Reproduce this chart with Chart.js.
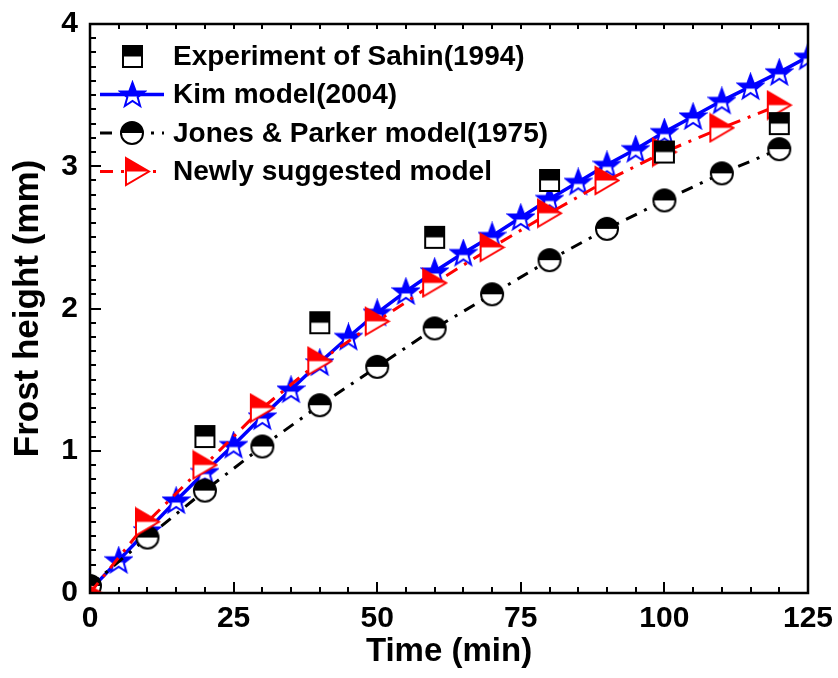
<!DOCTYPE html>
<html><head><meta charset="utf-8">
<script src="https://cdn.jsdelivr.net/npm/chart.js@4.4.1/dist/chart.umd.min.js"></script>
<style>html,body{margin:0;padding:0;background:#fff}#wrap{width:838px;height:678px;position:relative}canvas{display:block}</style>
</head><body><div id="wrap"><canvas id="c" width="838" height="678" style="width:838px;height:678px"></canvas></div>
<script>
// ---- data ----
const expTime   = [20, 40, 60, 80, 100, 120];
const expHeight = [1.1, 1.9, 2.5, 2.9, 3.1, 3.3];

const kimTime   = [0, 5, 10, 15, 20, 25, 30, 35, 40, 45, 50, 55, 60, 65, 70, 75, 80, 85, 90, 95, 100, 105, 110, 115, 120, 125];
const kimHeight = [0.02, 0.23, 0.44, 0.65, 0.85, 1.04, 1.24, 1.43, 1.62, 1.80, 1.97, 2.12, 2.26, 2.39, 2.51, 2.64, 2.77, 2.89, 3.01, 3.12, 3.24, 3.35, 3.46, 3.56, 3.66, 3.77];

const jonesTime   = [0, 10, 20, 30, 40, 50, 60, 70, 80, 90, 100, 110, 120];
const jonesHeight = [0.05, 0.39, 0.72, 1.03, 1.32, 1.59, 1.86, 2.10, 2.34, 2.56, 2.76, 2.95, 3.12];

const newTime   = [0, 10, 20, 30, 40, 50, 60, 70, 80, 90, 100, 110, 120];
const newHeight = [0.0, 0.50, 0.90, 1.30, 1.63, 1.91, 2.18, 2.43, 2.67, 2.90, 3.10, 3.27, 3.43];

const seriesLabels = ['Experiment of Sahin(1994)', 'Kim model(2004)', 'Jones & Parker model(1975)', 'Newly suggested model'];
const xTitle = 'Time (min)';
const yTitle = 'Frost height (mm)';

const FONT = '"Liberation Sans", Arial, Helvetica, sans-serif';

// ---- half-filled marker images ----
function makeMarker(kind, color) {
  const c = document.createElement('canvas');
  let w, h;
  if (kind === 'square') { w = 23; h = 25; }
  else if (kind === 'circle') { w = 26; h = 26; }
  else if (kind === 'tri') { w = 27; h = 31; }
  else { w = 29; h = 29; }
  c.width = w; c.height = h;
  const g = c.getContext('2d');
  const lw = 2;
  let splitY = h / 2;
  function path() {
    g.beginPath();
    if (kind === 'square') {
      g.rect(2, 2, w - 4, h - 4);
    } else if (kind === 'circle') {
      g.arc(w / 2, h / 2, w / 2 - 2, 0, Math.PI * 2);
    } else if (kind === 'tri') {
      g.moveTo(2, 2); g.lineTo(w - 2, h / 2); g.lineTo(2, h - 2); g.closePath();
    } else {
      const cx = w / 2, cy = h / 2 + 1, R = 13, r = 5.4;
      for (let i = 0; i < 10; i++) {
        const a = -Math.PI / 2 + i * Math.PI / 5;
        const rr = i % 2 === 0 ? R : r;
        const px = cx + rr * Math.cos(a), py = cy + rr * Math.sin(a);
        if (i === 0) g.moveTo(px, py); else g.lineTo(px, py);
      }
      g.closePath();
    }
  }
  if (kind === 'star') splitY = h / 2 + 2;
  path(); g.fillStyle = '#fff'; g.fill();
  g.save(); g.beginPath(); g.rect(0, 0, w, splitY); g.clip();
  path(); g.fillStyle = color; g.fill(); g.restore();
  path(); g.lineWidth = lw; g.strokeStyle = color; g.lineJoin = 'miter'; g.stroke();
  return c;
}
const sqImg = makeMarker('square', '#000');
const starImg = makeMarker('star', '#0000ff');
const circImg = makeMarker('circle', '#000');
const triImg = makeMarker('tri', '#ff0000');

const toXY = (xs, ys) => xs.map((x, i) => ({ x: x, y: ys[i] }));

// ---- frame + inward ticks ----
const framePlugin = {
  id: 'frame',
  afterDatasetsDraw(chart) {
    const { ctx, chartArea: a, scales: { x, y } } = chart;
    ctx.save();
    ctx.strokeStyle = '#000';
    ctx.lineWidth = 2.5;
    ctx.strokeRect(a.left, a.top, a.right - a.left, a.bottom - a.top);
    ctx.lineWidth = 2;
    ctx.beginPath();
    for (let v = x.min; v <= x.max + 1e-6; v += 5) {
      const px = Math.round(x.getPixelForValue(v));
      const major = Math.abs(v % 25) < 1e-6;
      ctx.moveTo(px, a.bottom); ctx.lineTo(px, a.bottom - (major ? 11 : 6));
      ctx.moveTo(px, a.top); ctx.lineTo(px, a.top + 5);
    }
    for (let k = 0; k <= 40; k++) {
      const v = k / 10;
      const py = Math.round(y.getPixelForValue(v));
      const major = k % 10 === 0;
      ctx.moveTo(a.left, py); ctx.lineTo(a.left + (major ? 11 : 6), py);
    }
    ctx.stroke();
    ctx.restore();
  }
};

// ---- legend inside the plot ----
const legendPlugin = {
  id: 'insideLegend',
  afterDatasetsDraw(chart) {
    const { ctx, chartArea: a } = chart;
    ctx.save();
    chart.data.datasets.forEach((ds, i) => {
      const yy = a.top + 32 + i * 38.5;
      if (ds.showLine !== false) {
        ctx.strokeStyle = ds.borderColor;
        ctx.lineWidth = ds.borderWidth;
        ctx.setLineDash(ds.borderDash || []);
        ctx.lineDashOffset = 0;
        ctx.beginPath(); ctx.moveTo(a.left + 10, yy); ctx.lineTo(a.left + 74, yy); ctx.stroke();
        ctx.setLineDash([]);
      }
      const img = ds.legendImg;
      const mx = a.left + (ds.legendImg === triImg ? 47 : 42);
      ctx.drawImage(img, Math.round(mx - img.width / 2), Math.round(yy - img.height / 2));
      ctx.fillStyle = '#000';
      ctx.font = 'bold 28px ' + FONT;
      ctx.textBaseline = 'middle';
      ctx.textAlign = 'left';
      ctx.fillText(ds.label, a.left + 83, yy + 1);
    });
    ctx.restore();
  }
};

new Chart(document.getElementById('c'), {
  type: 'line',
  data: {
    datasets: [
      { label: seriesLabels[0], data: toXY(expTime, expHeight), showLine: false,
        pointStyle: sqImg, pointRadius: 10, borderColor: '#000', backgroundColor: '#000',
        legendImg: sqImg, clip: 0, order: 0 },
      { label: seriesLabels[1], data: toXY(kimTime, kimHeight), showLine: true,
        borderColor: '#0000ff', borderWidth: 3.5, tension: 0,
        pointStyle: starImg, pointRadius: c => c.dataIndex === 0 ? 0 : 10,
        legendImg: starImg, clip: 0, order: 3 },
      { label: seriesLabels[2], data: toXY(jonesTime, jonesHeight), showLine: true,
        borderColor: '#000', borderWidth: 3, borderDash: [12, 8, 3, 8], tension: 0,
        pointStyle: circImg, pointRadius: 10, legendImg: circImg, clip: 0, order: 2 },
      { label: seriesLabels[3], data: toXY(newTime, newHeight), showLine: true,
        borderColor: '#ff0000', borderWidth: 3, borderDash: [13, 8, 3, 8], tension: 0,
        pointStyle: triImg, pointRadius: 10, legendImg: triImg, clip: 0, order: 1 }
    ]
  },
  options: {
    responsive: false,
    animation: false,
    devicePixelRatio: 1,
    layout: { padding: { top: 24, right: 30, left: 0, bottom: 0 } },
    plugins: { legend: { display: false }, tooltip: { enabled: false } },
    scales: {
      x: {
        type: 'linear', min: 0, max: 125,
        grid: { display: false }, border: { display: false },
        ticks: { stepSize: 25, color: '#000', padding: 0, font: { family: FONT, size: 30, weight: 'bold' } },
        title: { display: true, text: xTitle, color: '#000', padding: { top: 0, bottom: 6 }, font: { family: FONT, size: 33, weight: 'bold' } },
        afterFit: s => { s.height = 85; }
      },
      y: {
        type: 'linear', min: 0, max: 4,
        grid: { display: false }, border: { display: false },
        ticks: { stepSize: 1, color: '#000', padding: 4, font: { family: FONT, size: 30, weight: 'bold' } },
        title: { display: true, text: yTitle, color: '#000', padding: { top: 7, bottom: 0 }, font: { family: FONT, size: 35, weight: 'bold' } },
        afterFit: s => { s.width = 90; }
      }
    }
  },
  plugins: [framePlugin, legendPlugin]
});
</script></body></html>
